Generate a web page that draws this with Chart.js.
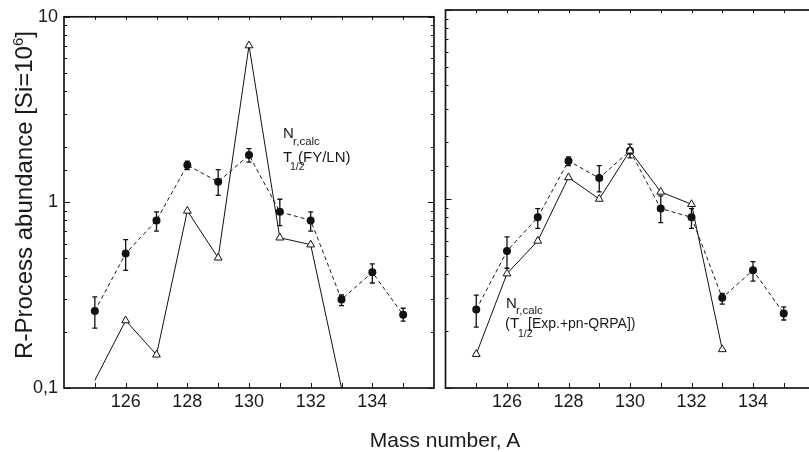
<!DOCTYPE html>
<html>
<head>
<meta charset="utf-8">
<script src="https://cdn.jsdelivr.net/npm/chart.js@4.4.1/dist/chart.umd.min.js"></script>
<style>
html, body { margin: 0; padding: 0; background: #fff; overflow: hidden; }
#wrap { position: relative; width: 809px; height: 452px; overflow: hidden; }
canvas { position: absolute; top: 0; }
#xtitle { position: absolute; left: 0; width: 890px; top: 429px; text-align: center;
  font: 21px 'Liberation Sans', Arial, sans-serif; line-height: 21px; color: #1a1a1a; }
</style>
</head>
<body>
<div id="wrap">
  <canvas id="left" width="440" height="452" style="left:0"></canvas>
  <canvas id="right" width="380" height="452" style="left:440px"></canvas>
  <div id="xtitle">Mass number, A</div>
</div>
<script>
// measured r-process abundances (filled circles) with error bars
var massNumbers = [125, 126, 127, 128, 129, 130, 131, 132, 133, 134, 135];
var observed    = [0.26, 0.53, 0.80, 1.59, 1.29, 1.80, 0.89, 0.80, 0.30, 0.42, 0.248];
var obsErrLow   = [0.21, 0.43, 0.70, 1.50, 1.09, 1.65, 0.75, 0.70, 0.278, 0.368, 0.229];
var obsErrHigh  = [0.31, 0.63, 0.89, 1.67, 1.50, 1.95, 1.04, 0.89, 0.317, 0.466, 0.269];

// calculated abundances (open triangles)
var calcMass = [125, 126, 127, 128, 129, 130, 131, 132, 133];
var calcFYLN = [0.11, 0.231, 0.151, 0.90, 0.503, 7.0, 0.645, 0.592, 0.1];
var calcQRPA = [0.151, 0.403, 0.60, 1.30, 1.0, 1.80, 1.09, 0.938, 0.16];
var fylnMarker = [0, 4.5, 4.5, 4.5, 4.5, 4.5, 4.5, 4.5, 0];

var xLabels = [126, 128, 130, 132, 134];
var yLabels = { '0.1': '0,1', '1': '1', '10': '10' };

Chart.defaults.font.family = "'Liberation Sans', Arial, sans-serif";
Chart.defaults.color = '#1a1a1a';

function toXY(xs, ys) {
  return xs.map(function (v, i) { return { x: v, y: ys[i] }; });
}

function isDecade(v) {
  return Math.abs(v - 0.1) < 1e-6 || Math.abs(v - 1) < 1e-6 || Math.abs(v - 10) < 1e-6;
}

// frame + inward ticks
function frameTicks(rightTicks) {
  return {
    id: 'frameTicks',
    afterDraw: function (chart) {
      var ctx = chart.ctx, a = chart.chartArea, x = chart.scales.x, y = chart.scales.y;
      ctx.save();
      ctx.strokeStyle = '#151515';
      ctx.lineWidth = 1;
      ctx.beginPath();
      x.ticks.forEach(function (t) {
        if (t.value <= x.min || t.value >= x.max) return;
        var px = Math.round(x.getPixelForValue(t.value)) + 0.5;
        ctx.moveTo(px, a.bottom); ctx.lineTo(px, a.bottom - 5);
        ctx.moveTo(px, a.top); ctx.lineTo(px, a.top + 3);
      });
      y.ticks.forEach(function (t) {
        var py = Math.round(y.getPixelForValue(t.value)) + 0.5;
        var len = isDecade(t.value) ? 6 : 3;
        ctx.moveTo(a.left, py); ctx.lineTo(a.left + len, py);
        if (rightTicks) { ctx.moveTo(a.right, py); ctx.lineTo(a.right - len, py); }
      });
      ctx.stroke();
      ctx.lineWidth = 1.7;
      ctx.strokeRect(a.left, a.top, a.right - a.left, a.bottom - a.top);
      ctx.restore();
    }
  };
}

// vertical error bars for the measured points
var errorBars = {
  id: 'errorBars',
  beforeDatasetsDraw: function (chart) {
    var ctx = chart.ctx, x = chart.scales.x, y = chart.scales.y;
    ctx.save();
    ctx.strokeStyle = '#111';
    ctx.lineWidth = 1.3;
    ctx.beginPath();
    massNumbers.forEach(function (m, i) {
      var px = x.getPixelForValue(m);
      var top = y.getPixelForValue(obsErrHigh[i]);
      var bot = y.getPixelForValue(obsErrLow[i]);
      ctx.moveTo(px, top); ctx.lineTo(px, bot);
      ctx.moveTo(px - 2.5, top); ctx.lineTo(px + 2.5, top);
      ctx.moveTo(px - 2.5, bot); ctx.lineTo(px + 2.5, bot);
    });
    ctx.stroke();
    ctx.restore();
  }
};

function txt(ctx, s, x, y, size) {
  ctx.font = size + "px 'Liberation Sans', Arial, sans-serif";
  ctx.fillText(s, x, y);
}

function makeChart(id, calc, markers, leftW, padRight, showYLabels, notes) {
  return new Chart(document.getElementById(id), {
    type: 'line',
    data: {
      datasets: [
        {
          data: toXY(calcMass, calc),
          borderColor: '#111',
          borderWidth: 1,
          pointStyle: 'triangle',
          pointRadius: markers,
          pointBackgroundColor: '#fff',
          pointBorderColor: '#111',
          pointBorderWidth: 1,
          tension: 0
        },
        {
          data: toXY(massNumbers, observed),
          borderColor: '#1a1a1a',
          borderWidth: 1,
          borderDash: [4, 3],
          pointStyle: 'circle',
          pointRadius: 4,
          pointBackgroundColor: '#111',
          pointBorderWidth: 0,
          tension: 0
        }
      ]
    },
    options: {
      responsive: false,
      animation: false,
      devicePixelRatio: 1,
      layout: { padding: { top: 10, right: padRight, left: 0, bottom: 0 } },
      plugins: { legend: { display: false }, tooltip: { enabled: false } },
      scales: {
        x: {
          type: 'linear', min: 124, max: 136,
          grid: { display: false, drawTicks: false },
          border: { display: false },
          ticks: {
            stepSize: 1, autoSkip: false, maxRotation: 0, padding: 3,
            font: { size: 18 },
            callback: function (v) { return xLabels.indexOf(v) >= 0 ? String(v) : ''; }
          },
          afterFit: function (s) { s.height = 64; }
        },
        y: {
          type: 'logarithmic', min: 0.1, max: 10,
          grid: { display: false, drawTicks: false },
          border: { display: false },
          ticks: {
            display: showYLabels, autoSkip: false, padding: 6,
            font: { size: 18 },
            callback: function (v) {
              for (var k in yLabels) { if (Math.abs(v - Number(k)) < 1e-6) return yLabels[k]; }
              return '';
            }
          },
          afterFit: function (s) { s.width = leftW; }
        }
      }
    },
    plugins: [errorBars, frameTicks(showYLabels), { id: 'notes', afterDraw: notes }]
  });
}

makeChart('left', calcFYLN, fylnMarker, 64, 6, true, function (chart) {
  var ctx = chart.ctx;
  ctx.save();
  ctx.fillStyle = '#1a1a1a';
  // y axis title
  ctx.translate(32, 195);
  ctx.rotate(-Math.PI / 2);
  ctx.font = "24px 'Liberation Sans', Arial, sans-serif";
  var p1 = 'R-Process abundance [Si=10', p3 = ']';
  var w1 = ctx.measureText(p1).width, w3 = ctx.measureText(p3).width;
  ctx.font = "15px 'Liberation Sans', Arial, sans-serif";
  var w2 = ctx.measureText('6').width;
  var sx = -(w1 + w2 + w3) / 2;
  txt(ctx, p1, sx, 0, 24);
  txt(ctx, '6', sx + w1, -9, 15);
  txt(ctx, p3, sx + w1 + w2, 0, 24);
  ctx.restore();

  ctx.save();
  ctx.fillStyle = '#1a1a1a';
  txt(ctx, 'N', 283, 138, 15);
  txt(ctx, 'r,calc', 293, 145, 11.5);
  txt(ctx, 'T', 283, 162, 15);
  txt(ctx, '1/2', 290, 170, 10.5);
  txt(ctx, '(FY/LN)', 298, 162, 15);
  ctx.restore();
});

makeChart('right', calcQRPA, 4.5, 5.5, 4.5, false, function (chart) {
  var ctx = chart.ctx;
  ctx.save();
  ctx.fillStyle = '#1a1a1a';
  txt(ctx, 'N', 66, 308, 15);
  txt(ctx, 'r,calc', 76, 314, 11.5);
  txt(ctx, '(T', 65, 328, 15);
  txt(ctx, '1/2', 78, 337, 10.5);
  txt(ctx, '[Exp.+pn-QRPA])', 88, 328, 14);
  ctx.restore();
});
</script>
</body>
</html>
